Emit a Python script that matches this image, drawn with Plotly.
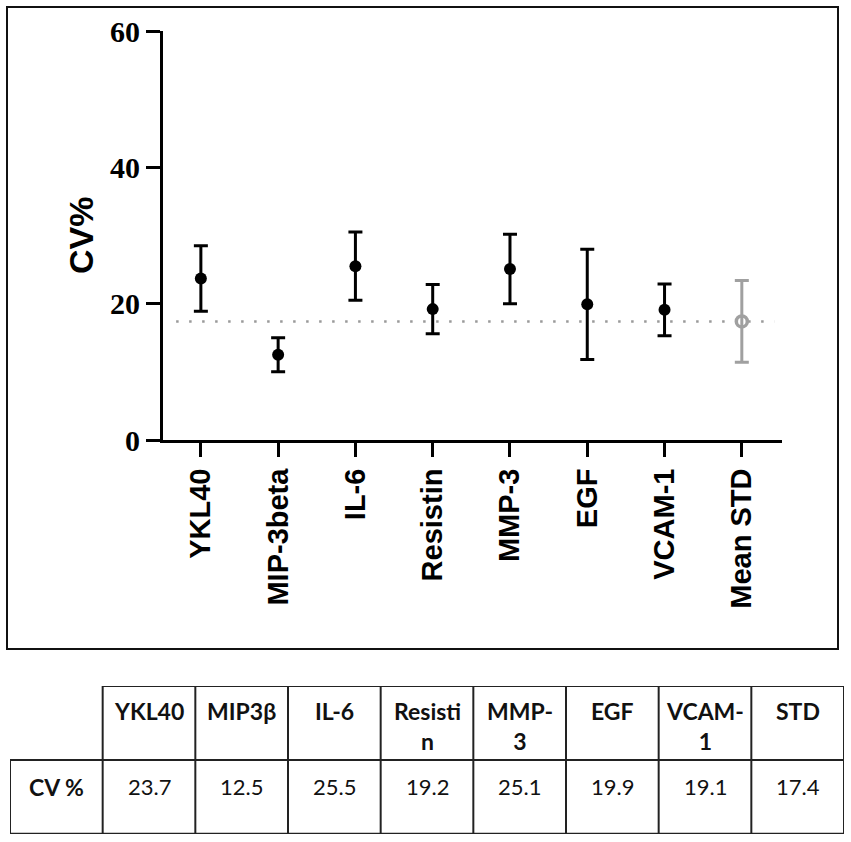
import plotly.graph_objects as go

# chart values
markers = ["YKL40", "MIP-3beta", "IL-6", "Resistin", "MMP-3", "EGF", "VCAM-1", "Mean STD"]
cv_values = [23.7, 12.5, 25.5, 19.2, 25.1, 19.9, 19.1, 17.4]
cv_errors = [4.8, 2.5, 5.0, 3.6, 5.1, 8.1, 3.8, 6.0]
y_ticks = [0, 20, 40, 60]

# table below the chart
table_headers = ["YKL40", "MIP3β", "IL-6", "Resisti<br>n", "MMP-<br>3", "EGF", "VCAM-<br>1", "STD"]
table_row_label = "CV %"
table_values = ["23.7", "12.5", "25.5", "19.2", "25.1", "19.9", "19.1", "17.4"]

W, H = 851, 842
BLACK = "#000000"
GREY = "#a0a0a0"
n = len(markers)
idx = list(range(n))

fig = go.Figure()

# black points with error bars (all but the mean STD)
fig.add_trace(
    go.Scatter(
        x=idx[:-1],
        y=cv_values[:-1],
        mode="markers",
        marker=dict(color=BLACK, size=12, symbol="circle"),
        error_y=dict(type="data", array=cv_errors[:-1], color=BLACK, thickness=3, width=7),
        showlegend=False,
        cliponaxis=False,
    )
)
# grey mean STD point
fig.add_trace(
    go.Scatter(
        x=idx[-1:],
        y=cv_values[-1:],
        mode="markers",
        marker=dict(color=GREY, size=11, symbol="circle-open", line=dict(color=GREY, width=3.5)),
        error_y=dict(type="data", array=cv_errors[-1:], color=GREY, thickness=3, width=7),
        showlegend=False,
        cliponaxis=False,
    )
)

shapes = []
# dotted reference line at the mean STD value
shapes.append(
    dict(
        type="line", xref="x", yref="y", layer="below",
        x0=-0.32, x1=7.42, y0=cv_values[-1], y1=cv_values[-1],
        line=dict(color="#9a9a9a", width=2.5, dash="2.5px,10.5px"),
    )
)
# outer frame around the chart
shapes.append(
    dict(
        type="rect", xref="paper", yref="paper",
        x0=7 / W, x1=838 / W, y0=1 - 649 / H, y1=1 - 7 / H,
        line=dict(color="#111111", width=2),
    )
)

# table grid (x2: column index, -1 = row label column; y2: 0 header row, 1 value row)
tl = dict(color="#222222", width=2)
shapes.append(dict(type="line", xref="x2", yref="y2", x0=-0.5, x1=n - 0.5, y0=-0.5, y1=-0.5, line=tl))
shapes.append(dict(type="line", xref="x2", yref="y2", x0=-1.5, x1=n - 0.5, y0=0.5, y1=0.5, line=tl))
shapes.append(dict(type="line", xref="x2", yref="y2", x0=-1.5, x1=n - 0.5, y0=1.5, y1=1.5,
                   line=dict(color="#222222", width=2.5)))
shapes.append(dict(type="line", xref="x2", yref="y2", x0=-1.5, x1=-1.5, y0=0.5, y1=1.5, line=tl))
for i in range(-1, n):
    shapes.append(dict(type="line", xref="x2", yref="y2", x0=i + 0.5, x1=i + 0.5, y0=-0.5, y1=1.5, line=tl))

annotations = []
# y axis title
annotations.append(
    dict(
        text="<b>CV%</b>", xref="paper", yref="paper", x=81 / W, y=1 - 236 / H,
        xanchor="center", yanchor="middle",
        textangle=-90, showarrow=False,
        font=dict(family="Liberation Sans", size=34, color=BLACK),
    )
)
cell_font_b = dict(family="Lato", size=23, color="#111111", weight="bold")
cell_font = dict(family="Lato", size=22, color="#111111")
for i, h in enumerate(table_headers):
    annotations.append(
        dict(text=h, xref="x2", yref="y2", x=i, y=-0.5, yanchor="top", yshift=-9,
             showarrow=False, font=cell_font_b)
    )
for i, v in enumerate(table_values):
    annotations.append(
        dict(text=v, xref="x2", yref="y2", x=i, y=0.5, yanchor="top", yshift=-11,
             showarrow=False, font=cell_font)
    )
annotations.append(
    dict(text=table_row_label, xref="x2", yref="y2", x=-1, y=0.5, yanchor="top", yshift=-11,
         showarrow=False, font=cell_font_b)
)

fig.update_layout(
    width=W,
    height=H,
    margin=dict(l=0, r=0, t=0, b=0, autoexpand=False),
    paper_bgcolor="white",
    plot_bgcolor="white",
    shapes=shapes,
    annotations=annotations,
    xaxis=dict(
        domain=[163 / W, 782 / W],
        range=[-0.49, 7.52],
        tickmode="array",
        tickvals=idx,
        ticktext=markers,
        tickangle=-90,
        ticks="outside",
        ticklen=14,
        tickwidth=2.5,
        tickcolor=BLACK,
        showline=True,
        linewidth=3,
        linecolor=BLACK,
        showgrid=False,
        zeroline=False,
        automargin=False,
        tickfont=dict(family="Liberation Sans", size=29, color=BLACK, weight="bold"),
        anchor="y",
    ),
    yaxis=dict(
        domain=[1 - 440 / H, 1 - 31 / H],
        range=[0, 60],
        tickmode="array",
        tickvals=y_ticks,
        ticks="outside",
        ticklen=14,
        tickwidth=2.5,
        tickcolor=BLACK,
        showline=True,
        linewidth=3,
        linecolor=BLACK,
        showgrid=False,
        zeroline=False,
        automargin=False,
        tickfont=dict(family="Liberation Serif", size=30, color=BLACK, weight="bold"),
        anchor="x",
    ),
    xaxis2=dict(domain=[10 / W, 844 / W], range=[-1.5, n - 0.5], visible=False,
                automargin=False, anchor="y2"),
    yaxis2=dict(domain=[1 - 834 / H, 1 - 686 / H], range=[1.5, -0.5], visible=False,
                automargin=False, anchor="x2"),
)

# drop the default page margin so the figure sits at the window origin
fig.write_html(
    "out.html",
    config={"displayModeBar": False},
    post_script="document.body.style.margin='0';",
)
